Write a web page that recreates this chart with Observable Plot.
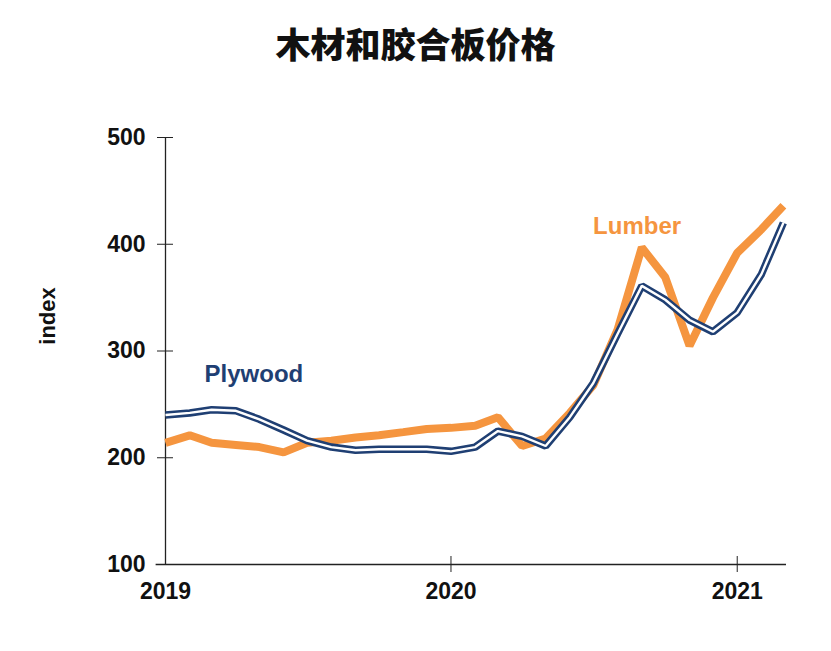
<!DOCTYPE html>
<html>
<head>
<meta charset="utf-8">
<script src="https://cdn.jsdelivr.net/npm/d3@7"></script>
<script src="https://cdn.jsdelivr.net/npm/@observablehq/plot@0.6"></script>
<style>
  body { margin: 0; background: #fff; }
  #title { height: 90px; box-sizing: border-box; padding-top: 18px; text-align: center;
    font-family: "Noto Sans CJK SC", sans-serif; font-weight: 900; font-size: 35px; color: #111; line-height: 50px; }
  svg { display: block; }
</style>
</head>
<body>
<div id="title">木材和胶合板价格</div>
<div id="chart"></div>
<script>
const months = ["2019-01","2019-02","2019-03","2019-04","2019-05","2019-06","2019-07","2019-08","2019-09","2019-10","2019-11","2019-12",
  "2020-01","2020-02","2020-03","2020-04","2020-05","2020-06","2020-07","2020-08","2020-09","2020-10","2020-11","2020-12",
  "2021-01","2021-02","2021-03"];
const lumber  = [214,221,214,212,210,205,214,216,219,221,224,227,228,230,238,211,218,242,268,320,397,369,305,350,392,414,436];
const plywood = [240,242,245,244,236,226,216,210,207,208,208,208,206,210,225,220,211,238,270,316,361,348,329,318,336,372,420];
const yTicks = [100,200,300,400,500];
const xTicks = ["2019-01-01","2020-01-01","2021-01-01"];
const seriesLabels = [
  {name: "Plywood", date: "2019-04-24", value: 278},
  {name: "Lumber", date: "2020-08-26", value: 417}
];

const parse = d3.utcParse("%Y-%m");
const lumberData = months.map((m, i) => ({date: parse(m), value: lumber[i]}));
const plywoodData = months.map((m, i) => ({date: parse(m), value: plywood[i]}));
const xTickDates = xTicks.map(d => new Date(d));
const labelData = seriesLabels.map(d => ({...d, date: new Date(d.date)}));

const orange = "#F5953F";
const navy = "#1F3F73";
const tickFont = {fontFamily: "Liberation Sans, Arial, sans-serif", fontWeight: 700};

const chart = Plot.plot({
  width: 831,
  height: 561,
  marginLeft: 165,
  marginRight: 45,
  marginTop: 47,
  marginBottom: 87,
  style: {fontFamily: "Liberation Sans, Arial, sans-serif", background: "#fff"},
  x: {type: "utc", domain: [new Date("2019-01-01"), new Date("2021-03-05")]},
  y: {domain: [100, 500]},
  marks: [
    Plot.ruleY([100], {stroke: "#222", strokeWidth: 1.3, x1: new Date("2018-12-20"), x2: new Date("2021-03-05")}),
    Plot.ruleX([new Date("2019-01-01")], {stroke: "#222", strokeWidth: 1.3, y1: 100, y2: 500}),
    Plot.axisY({ticks: yTicks, tickSize: 16, dx: 8, text: null, label: null, stroke: "#222"}),
    Plot.axisY({ticks: yTicks, tickSize: 0, tickPadding: 20, fontSize: 23, ...tickFont, fill: "#111", label: null}),
    Plot.axisX({ticks: xTickDates.slice(1), tickSize: 16, dy: -8, text: null, label: null, stroke: "#222"}),
    Plot.axisX({ticks: xTickDates, tickSize: 0, tickPadding: 18, fontSize: 23, ...tickFont, fill: "#111", label: null, tickFormat: d3.utcFormat("%Y")}),
    Plot.text(["index"], {frameAnchor: "left", dx: -118, dy: -35, rotate: -90, textAnchor: "middle", fontSize: 22, ...tickFont, fill: "#111"}),
    Plot.line(lumberData, {x: "date", y: "value", stroke: orange, strokeWidth: 8, strokeLinejoin: "miter", strokeLinecap: "butt"}),
    Plot.line(plywoodData, {x: "date", y: "value", stroke: navy, strokeWidth: 7.5, strokeLinejoin: "miter", strokeLinecap: "butt"}),
    Plot.line(plywoodData, {x: "date", y: "value", stroke: "#fff", strokeWidth: 2.4, strokeLinejoin: "miter", strokeLinecap: "butt"}),
    Plot.text(labelData, {x: "date", y: "value", text: "name", fontSize: 24, ...tickFont,
      fill: d => d.name === "Lumber" ? orange : navy})
  ]
});
document.getElementById("chart").append(chart);
</script>
</body>
</html>
